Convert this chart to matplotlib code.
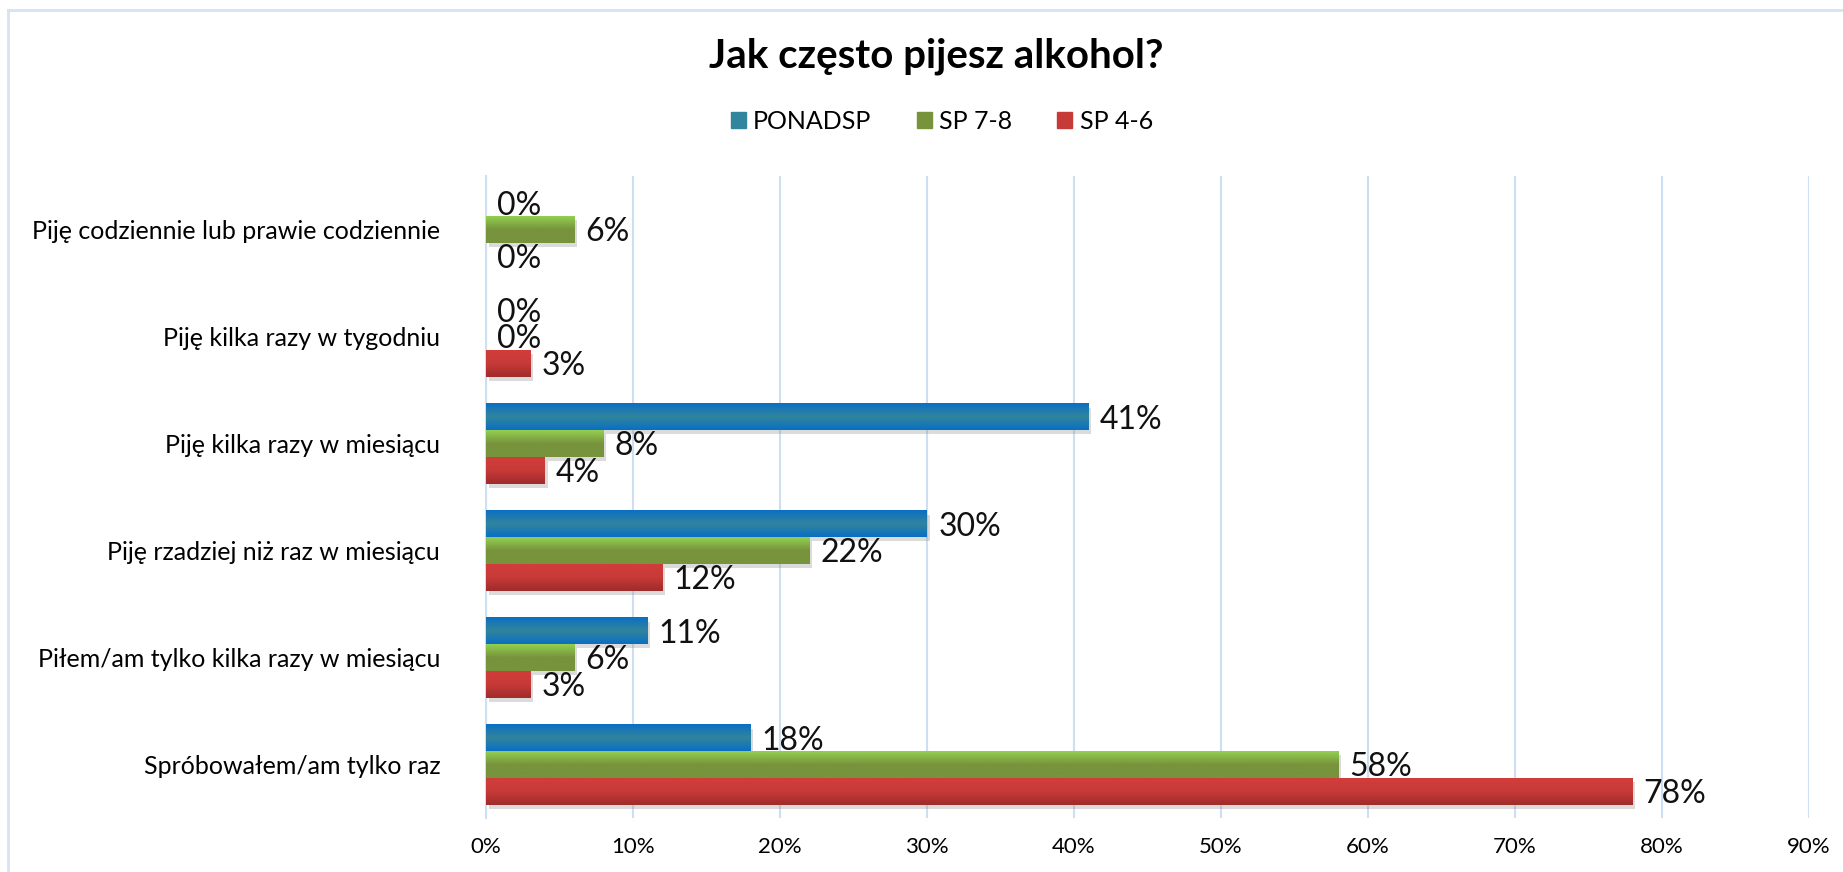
import numpy as np
import matplotlib
matplotlib.use('Agg')
import matplotlib.pyplot as plt
import matplotlib.patheffects as pe
from matplotlib.lines import Line2D
from matplotlib.colors import LinearSegmentedColormap

categories = [
    'Piję codziennie lub prawie codziennie',
    'Piję kilka razy w tygodniu',
    'Piję kilka razy w miesiącu',
    'Piję rzadziej niż raz w miesiącu',
    'Piłem/am tylko kilka razy w miesiącu',
    'Spróbowałem/am tylko raz',
]
series_names = ['PONADSP', 'SP 7-8', 'SP 4-6']
ponadsp = [0, 0, 41, 30, 11, 18]
sp78 = [6, 0, 8, 22, 6, 58]
sp46 = [0, 3, 4, 12, 3, 78]

# gradient stops (top, middle, bottom) per series
grads = [
    ['#0a6fc4', '#31859c', '#0a6fc4'],
    ['#92d050', '#77933c', '#77933c'],
    ['#d23d3b', '#c63a38', '#a02b2b'],
]
flat = ['#1f78b4', '#77933c', '#c0393b']

plt.rcParams['font.family'] = ['Lato', 'DejaVu Sans']

fig = plt.figure(figsize=(18.43, 8.72), dpi=100)
ax = fig.add_axes([486 / 1843, 1 - 818 / 872, (1809 - 486) / 1843, (818 - 176) / 872])

n = len(categories)
y = np.arange(n)[::-1]
h = 0.25
offsets = [h, 0, -h]

for k, vals in enumerate([ponadsp, sp78, sp46]):
    bars = ax.barh(y + offsets[k], np.array(vals) / 100, height=h, color=flat[k],
                   zorder=3, linewidth=0,
                   path_effects=[pe.SimplePatchShadow(offset=(2, -3), shadow_rgbFace='#888888', alpha=0.3), pe.Normal()])
    cmap = LinearSegmentedColormap.from_list('g%d' % k, grads[k])
    grad = np.linspace(0, 1, 64).reshape(-1, 1)
    for b, v in zip(bars, vals):
        if v > 0:
            x0, y0 = b.get_x(), b.get_y()
            im = ax.imshow(grad, cmap=cmap, aspect='auto', zorder=4,
                           extent=(x0, x0 + b.get_width(), y0, y0 + b.get_height()), origin='upper')
            im.set_clip_path(b)
        ax.annotate('%d%%' % v, (v / 100, b.get_y() + b.get_height() / 2),
                    xytext=(8, -2), textcoords='offset points', va='center', ha='left',
                    fontsize=23, color='#111111', zorder=5)

ax.set_xlim(0, 0.9)
ax.set_ylim(-0.5, n - 0.5)
ax.set_xticks(np.arange(0, 0.91, 0.1))
ax.set_xticklabels(['%d%%' % t for t in range(0, 91, 10)], fontsize=16)
ax.set_yticks(y)
ax.set_yticklabels(categories, fontsize=18)
ax.tick_params(axis='both', length=0)
ax.tick_params(axis='y', pad=33)
ax.tick_params(axis='x', pad=14)
ax.grid(axis='x', color='#cfdff2', linewidth=1.5, zorder=0)
for s in ['top', 'right', 'bottom']:
    ax.spines[s].set_visible(False)
ax.spines['left'].set_color('#cfdff2')
ax.spines['left'].set_linewidth(1.5)

fig.text(0.508, 0.936, 'Jak często pijesz alkohol?', ha='center', va='center',
         fontsize=29, fontweight='bold')

handles = [plt.Rectangle((0, 0), 1, 1, color=grads[k][1]) for k in range(3)]
fig.legend(handles, series_names, loc='center', bbox_to_anchor=(0.511, 0.861), ncol=3,
           frameon=False, fontsize=18, handlelength=0.6, handleheight=0.6,
           handletextpad=0.3, columnspacing=1.8)

# outer chart frame (top and left edges visible)
fig.add_artist(Line2D([8 / 1843, 1.0], [1 - 10 / 872, 1 - 10 / 872], color='#d5e3f5', linewidth=2, transform=fig.transFigure))
fig.add_artist(Line2D([8 / 1843, 8 / 1843], [0, 1 - 10 / 872], color='#d5e3f5', linewidth=2, transform=fig.transFigure))

fig.savefig('out.png', dpi=100)
